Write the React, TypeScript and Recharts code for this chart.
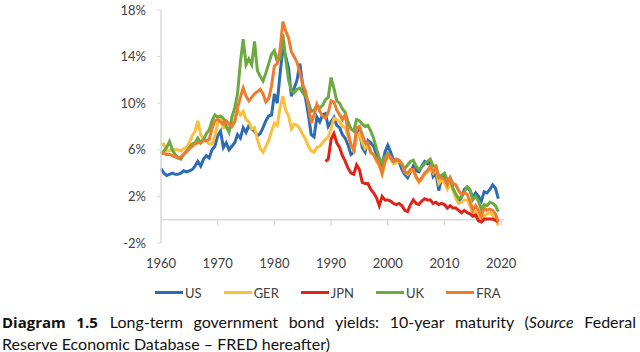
import { Legend, Line, LineChart, ReferenceLine, XAxis, YAxis } from 'recharts';

// half-year observations, 1960.0 .. 2019.5
const periods: number[] = Array.from({ length: 120 }, (_, i) => 1960 + i / 2);

const usYields = [
  4.4, 4.0, 3.8, 3.9, 4.0, 3.9, 3.9, 4.0, 4.2, 4.1,
  4.2, 4.3, 4.6, 5.0, 4.6, 5.2, 5.5, 5.3, 6.0, 6.3,
  7.2, 7.6, 6.2, 6.6, 6.0, 6.3, 6.6, 7.3, 7.0, 7.9,
  7.5, 8.1, 7.8, 7.6, 7.2, 7.4, 7.9, 8.5, 8.9, 9.0,
  10.8, 10.0, 12.5, 14.8, 14.0, 13.0, 10.6, 11.3, 12.0, 13.4,
  11.5, 10.4, 9.0, 7.3, 7.1, 8.8, 8.4, 9.0, 9.1, 8.0,
  8.4, 8.8, 8.1, 7.9, 7.3, 7.0, 6.4, 5.6, 5.8, 7.3,
  7.7, 6.2, 5.8, 6.8, 6.6, 6.3, 5.6, 5.2, 4.7, 5.8,
  6.4, 5.8, 5.1, 5.2, 5.0, 4.3, 3.9, 3.6, 4.1, 4.6,
  4.2, 4.1, 4.6, 5.0, 4.8, 4.9, 3.7, 4.0, 2.5, 3.6,
  3.7, 3.0, 3.4, 2.6, 2.0, 1.6, 1.9, 2.6, 2.8, 2.5,
  1.9, 2.3, 2.0, 1.6, 2.4, 2.3, 2.6, 3.0, 2.7, 1.8,
];

const gerYields = [
  6.4, 6.5, 5.9, 5.9, 6.0, 6.0, 6.0, 5.9, 6.1, 6.2,
  6.6, 7.2, 7.6, 8.5, 7.3, 6.9, 6.7, 6.5, 6.5, 7.2,
  8.3, 8.6, 7.9, 8.0, 7.8, 8.0, 8.6, 9.4, 9.0, 9.3,
  8.6, 8.4, 7.8, 7.9, 6.9, 6.1, 5.8, 6.3, 6.8, 7.6,
  8.3, 8.1, 9.6, 10.6, 9.4, 8.9, 7.8, 8.2, 8.1, 7.8,
  7.3, 6.9, 6.3, 5.9, 5.8, 6.2, 6.3, 6.6, 6.9, 7.1,
  7.8, 8.7, 8.6, 8.4, 8.0, 7.9, 7.1, 6.5, 5.9, 7.0,
  7.4, 6.6, 6.1, 6.4, 5.7, 5.6, 5.0, 4.6, 3.9, 4.9,
  5.4, 5.2, 4.8, 4.9, 5.0, 4.8, 4.1, 3.9, 4.2, 4.2,
  3.6, 3.2, 3.5, 3.9, 4.1, 4.4, 4.0, 4.4, 3.1, 3.4,
  3.2, 2.6, 3.1, 2.6, 1.8, 1.4, 1.5, 1.7, 1.7, 1.2,
  0.5, 0.7, 0.4, -0.1, 0.3, 0.5, 0.6, 0.4, 0.1, -0.5,
];

const jpnYields = [
  null, null, null, null, null, null, null, null, null, null,
  null, null, null, null, null, null, null, null, null, null,
  null, null, null, null, null, null, null, null, null, null,
  null, null, null, null, null, null, null, null, null, null,
  null, null, null, null, null, null, null, null, null, null,
  null, null, null, null, null, null, null, null, 5.0, 5.2,
  6.9, 7.4, 6.6, 6.2, 5.5, 5.0, 4.4, 4.0, 3.9, 4.7,
  4.3, 3.2, 3.1, 3.1, 2.6, 2.3, 1.9, 1.2, 2.0, 1.7,
  1.7, 1.6, 1.4, 1.3, 1.4, 1.2, 0.8, 0.7, 1.3, 1.7,
  1.4, 1.3, 1.6, 1.8, 1.7, 1.7, 1.4, 1.5, 1.3, 1.4,
  1.3, 1.0, 1.2, 1.0, 1.0, 0.8, 0.6, 0.8, 0.6, 0.5,
  0.3, 0.4, -0.1, -0.2, 0.05, 0.05, 0.05, 0.05, -0.05, -0.2,
];

const ukYields = [
  5.6, 5.9, 6.2, 6.7, 6.0, 5.6, 5.3, 5.2, 5.6, 5.9,
  6.2, 6.5, 6.6, 7.0, 6.6, 6.9, 7.4, 7.7, 8.5, 9.0,
  8.8, 8.9, 8.7, 8.0, 7.5, 8.8, 9.6, 10.8, 13.5, 15.5,
  13.3, 13.8, 13.3, 15.3, 12.8, 12.3, 11.9, 12.6, 13.4, 14.2,
  14.5, 13.6, 13.8, 15.9, 13.8, 12.0, 11.1, 10.9, 11.2, 11.3,
  10.9, 10.6, 10.1, 9.3, 9.4, 9.8, 9.6, 9.8, 10.3, 10.5,
  12.2, 11.3, 10.2, 10.0, 9.5, 9.2, 8.4, 7.8, 7.6, 8.6,
  8.5, 8.2, 8.0, 8.1, 7.6, 7.0, 6.1, 5.3, 4.9, 5.4,
  5.7, 5.3, 5.0, 5.1, 5.1, 4.7, 4.4, 4.7, 5.0, 5.1,
  4.6, 4.3, 4.5, 4.8, 5.0, 5.2, 4.6, 4.6, 3.7, 3.8,
  4.0, 3.4, 3.6, 2.7, 2.2, 1.8, 2.0, 2.4, 2.8, 2.6,
  1.7, 2.0, 1.6, 0.9, 1.3, 1.2, 1.5, 1.4, 1.2, 0.7,
];

const fraYields = [
  5.8, 5.7, 5.6, 5.6, 5.5, 5.4, 5.3, 5.4, 5.6, 5.8,
  6.1, 6.3, 6.5, 6.6, 6.6, 6.8, 6.8, 6.9, 7.8, 8.5,
  8.6, 8.4, 8.2, 8.5, 8.2, 8.0, 8.4, 9.6, 10.5, 11.3,
  10.6, 10.2, 10.5, 10.8, 11.0, 11.2, 10.8, 10.1, 10.4, 11.5,
  13.2, 13.4, 14.6, 17.0, 16.2, 15.6, 14.4, 14.0, 13.5, 12.6,
  11.6, 11.0, 9.8, 8.3, 9.0, 9.9, 9.3, 8.9, 8.7, 9.2,
  10.2, 10.1, 9.4, 9.0, 8.6, 9.0, 7.5, 6.4, 6.0, 7.9,
  8.0, 7.3, 6.6, 6.6, 5.8, 5.6, 5.2, 4.8, 4.0, 5.0,
  5.6, 5.4, 5.0, 5.2, 5.1, 4.8, 4.1, 4.0, 4.3, 4.3,
  3.7, 3.3, 3.6, 4.0, 4.2, 4.6, 4.1, 4.5, 3.6, 3.6,
  3.5, 3.0, 3.6, 3.1, 3.0, 2.5, 2.2, 2.3, 2.2, 1.6,
  0.8, 1.2, 0.8, 0.3, 1.0, 0.8, 0.9, 0.8, 0.5, -0.2,
];

const yearTicks = [1960, 1970, 1980, 1990, 2000, 2010, 2020];
const yieldTicks = [-2, 2, 6, 10, 14, 18];

const series = [
  { key: 'us', name: 'US', color: '#2b6cb5', values: usYields },
  { key: 'ger', name: 'GER', color: '#fbbf3c', values: gerYields },
  { key: 'jpn', name: 'JPN', color: '#de2418', values: jpnYields },
  { key: 'uk', name: 'UK', color: '#6aaa3e', values: ukYields },
  { key: 'fra', name: 'FRA', color: '#ee7b30', values: fraYields },
];

const chartData = periods.map((t, i) => {
  const row: Record<string, number | null> = { t };
  series.forEach(s => {
    row[s.key] = s.values[i];
  });
  return row;
});

const fontFamily = 'Lato, "Open Sans", sans-serif';
const tickStyle = { fill: '#404040', fontSize: 13, fontFamily };
const axisGray = '#d9d9d9';

function YieldLegend() {
  return (
    <div
      style={{
        display: 'flex',
        alignItems: 'center',
        height: 25,
        paddingLeft: 155,
        fontFamily,
        fontSize: 13,
        color: '#404040',
      }}
    >
      {series.map(s => (
        <div key={s.key} style={{ display: 'flex', alignItems: 'center', marginRight: 22 }}>
          <span style={{ display: 'inline-block', width: 28, height: 3, background: s.color, marginRight: 2 }} />
          <span>{s.name}</span>
        </div>
      ))}
    </div>
  );
}

export default function App() {
  return (
    <div style={{ position: 'absolute', left: 0, top: 0, width: 640, height: 352, background: '#fff' }}>
      <LineChart
        width={640}
        height={305}
        data={chartData}
        margin={{ top: 10, right: 136, bottom: 0, left: 0 }}
      >
        <XAxis
          type="number"
          dataKey="t"
          domain={[1960, 2020.5]}
          ticks={yearTicks}
          axisLine={false}
          tickLine={false}
          tickSize={0}
          tickMargin={16}
          height={37}
          tick={tickStyle}
        />
        <YAxis
          domain={[-2, 18]}
          ticks={yieldTicks}
          width={161}
          tickFormatter={v => `${v}%`}
          axisLine={{ stroke: axisGray, strokeWidth: 1.5 }}
          tickLine={{ stroke: axisGray }}
          tickSize={4}
          tickMargin={11}
          tick={tickStyle}
        />
        <ReferenceLine y={0} stroke={axisGray} strokeWidth={1.5} />
        {yearTicks.slice(1).map(yr => (
          <ReferenceLine
            key={yr}
            segment={[
              { x: yr, y: 0 },
              { x: yr, y: -0.5 },
            ]}
            stroke={axisGray}
            strokeWidth={1.5}
          />
        ))}
        <Legend
          verticalAlign="bottom"
          height={25}
          wrapperStyle={{ left: 0, width: 640 }}
          content={() => <YieldLegend />}
        />
        {series.map(s => (
          <Line
            key={s.key}
            type="linear"
            dataKey={s.key}
            name={s.name}
            stroke={s.color}
            strokeWidth={3}
            dot={false}
            isAnimationActive={false}
            connectNulls={false}
          />
        ))}
      </LineChart>
      <div
        style={{
          position: 'absolute',
          left: 2,
          top: 311,
          width: 634,
          fontFamily,
          fontSize: 16,
          lineHeight: '21px',
          color: '#111',
        }}
      >
        <div style={{ textAlign: 'justify', textAlignLast: 'justify' }}>
          <b style={{ fontFamily: '"Open Sans", sans-serif', fontSize: 15 }}>Diagram 1.5</b>
          <span style={{ marginLeft: 12 }}>Long-term government bond yields: 10-year maturity (</span>
          <i>Source</i> Federal
        </div>
        <div>Reserve Economic Database – FRED hereafter)</div>
      </div>
    </div>
  );
}
